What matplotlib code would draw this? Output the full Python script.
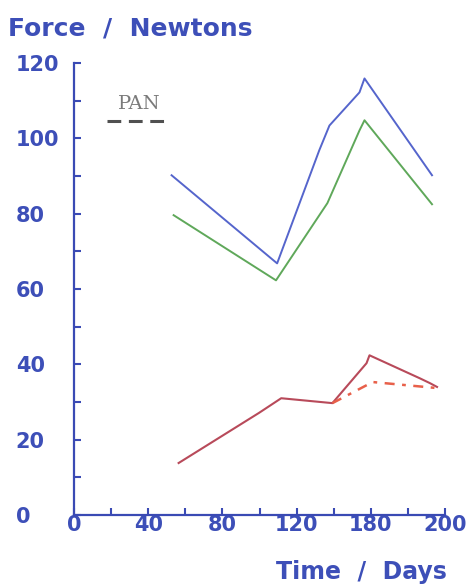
import matplotlib
matplotlib.use("Agg")
import matplotlib.pyplot as plt
from matplotlib.lines import Line2D
from matplotlib.offsetbox import AnchoredOffsetbox, VPacker, TextArea, DrawingArea

# ---- data ----
blue_x = [52.6, 109.5, 132.2, 137.7, 153.9, 156.6, 193.0]
blue_y = [90.2, 66.8, 96.8, 103.4, 112.2, 115.9, 90.2]

green_x = [53.7, 108.9, 136.6, 153.9, 156.6, 193.0]
green_y = [79.6, 62.3, 82.8, 102.1, 104.8, 82.5]

red_x = [56.4, 99.7, 111.7, 139.3, 157.7, 159.3, 186.4, 191.9, 195.7]
red_y = [13.8, 27.1, 31.0, 29.7, 40.3, 42.4, 36.3, 35.0, 34.0]

red_dash_x = [139.3, 161.0, 195.7]
red_dash_y = [29.7, 35.3, 33.7]

x_ticks = [0, 40, 80, 120, 160, 200]
x_ticklabels = ["0", "40", "80", "120", "180", "200"]
y_ticks = [0, 20, 40, 60, 80, 100, 120]
y_ticklabels = ["0", "20", "40", "60", "80", "100", "120"]

AXIS_BLUE = "#3a4ab4"
TXT_BLUE = "#3d4fb8"

fig = plt.figure(figsize=(4.75, 5.85), dpi=100)
ax = fig.add_axes([74/475, 1 - 515/585, (445-74)/475, (515-63)/585])

ax.plot(blue_x, blue_y, color="#5565cc", lw=1.4)
ax.plot(green_x, green_y, color="#5fa85a", lw=1.4)
ax.plot(red_x, red_y, color="#b84a5a", lw=1.5)
ax.plot(red_dash_x, red_dash_y, color="#e8604a", lw=1.8, dashes=(4, 3, 1.5, 3))

ax.set_xlim(0, 200)
ax.set_ylim(0, 120)
for s in ("top", "right"):
    ax.spines[s].set_visible(False)
for s in ("left", "bottom"):
    ax.spines[s].set_color(AXIS_BLUE)
    ax.spines[s].set_linewidth(1.6)

ax.set_xticks(x_ticks)
ax.set_xticklabels(x_ticklabels)
ax.set_xticks(list(range(20, 200, 40)), minor=True)
ax.tick_params(axis="x", which="both", direction="in", length=5, width=1.5, color=AXIS_BLUE,
               pad=0, labelsize=15, labelcolor=TXT_BLUE)

ax.set_yticks(y_ticks)
ax.set_yticklabels(y_ticklabels)
ax.set_yticks(list(range(10, 120, 20)), minor=True)
ax.tick_params(axis="y", which="both", direction="in", length=5, width=1.5, color=AXIS_BLUE,
               pad=42, labelsize=15, labelcolor=TXT_BLUE)
for lab in ax.get_yticklabels():
    lab.set_horizontalalignment("left")
for lab in ax.get_xticklabels() + ax.get_yticklabels():
    lab.set_fontweight("bold")

fig.text(8/475, 1 - 29/585, "Force  /  Newtons", color=TXT_BLUE, fontsize=18,
         fontweight="bold", va="center", ha="left")
fig.text(447/475, 1 - 572/585, "Time  /  Days", color=TXT_BLUE, fontsize=17,
         fontweight="bold", va="center", ha="right")

# legend-like key: "PAN" over a dashed sample
ta = TextArea("PAN", textprops=dict(fontfamily="DejaVu Serif", fontsize=14, color="#7a7a7a"))
da = DrawingArea(46, 6, 0, 0)
da.add_artist(Line2D([0, 46], [3, 3], color="#505050", lw=2.2, dashes=(4.5, 2.5)))
pack = VPacker(children=[ta, da], align="center", pad=0, sep=3)
box = AnchoredOffsetbox(loc="upper left", child=pack, frameon=False,
                        bbox_to_anchor=(107/475, 1 - 95/585), bbox_transform=fig.transFigure,
                        borderpad=0, pad=0)
ax.add_artist(box)

fig.savefig("out.png", dpi=100)
